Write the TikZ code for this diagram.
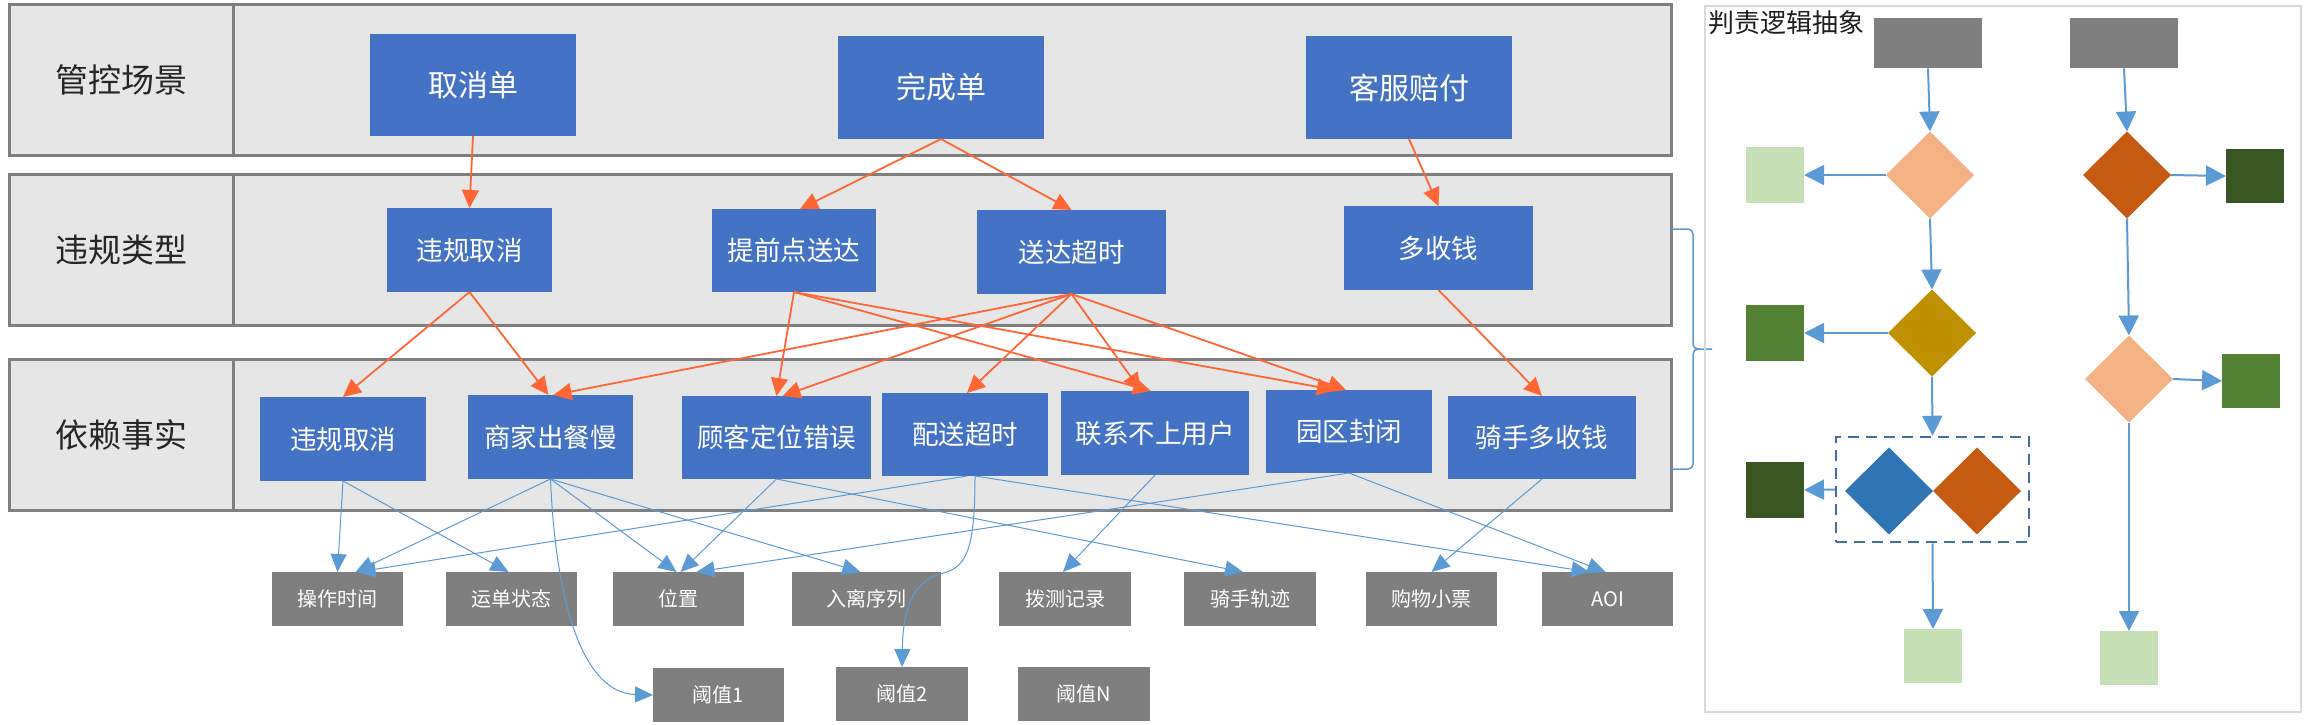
\documentclass[tikz,border=0pt]{standalone}
\usepackage{fontspec}
\setmainfont{Noto Sans CJK SC}
\usetikzlibrary{arrows.meta,shapes.geometric}

\definecolor{bandfill}{RGB}{230,230,230}
\definecolor{bandline}{RGB}{127,127,127}
\definecolor{boxblue}{RGB}{68,114,196}
\definecolor{datagray}{RGB}{127,127,127}
\definecolor{linkblue}{RGB}{91,155,213}
\definecolor{linkorange}{RGB}{255,102,51}
\definecolor{salmon}{RGB}{244,177,131}
\definecolor{gold}{RGB}{191,144,0}
\definecolor{deepblue}{RGB}{46,117,182}
\definecolor{rust}{RGB}{197,90,17}
\definecolor{palegreen}{RGB}{197,224,180}
\definecolor{midgreen}{RGB}{84,130,53}
\definecolor{darkgreen}{RGB}{56,87,35}
\definecolor{dashblue}{RGB}{65,113,156}
\definecolor{framegray}{RGB}{217,217,217}

\tikzset{every picture/.style={line width=0.75pt}}
\tikzset{
	band/.style={draw=bandline, fill=bandfill, line width=3pt},
	bandlabel/.style={text={rgb,255:red,38;green,38;blue,38}, font=\fontsize{33}{36}\selectfont},
	bluebox/.style={fill=boxblue, text=white, inner sep=0pt, outer sep=0pt},
	scene/.style={bluebox, minimum width=206pt, minimum height=103pt, font=\fontsize{30}{34}\selectfont},
	vtype/.style={bluebox, minimum height=84pt, font=\fontsize{26.5}{30}\selectfont},
	datum/.style={fill=datagray, text=white, inner sep=0pt, outer sep=0pt, minimum height=54pt, minimum width=131pt, font=\fontsize{20}{24}\selectfont},
	orangelink/.style={draw=linkorange, line width=1.8pt, -{Triangle[length=18pt,width=17pt]}},
	bluelink/.style={draw=linkblue, line width=1pt, -{Triangle[length=18pt,width=16pt]}},
	panellink/.style={draw=linkblue, line width=2pt, -{Triangle[length=20pt,width=20pt]}},
	block/.style={inner sep=0pt, outer sep=0pt, minimum width=58pt, minimum height=56pt},
	choice/.style={diamond, inner sep=0pt, outer sep=0pt, minimum width=88pt, minimum height=87pt}
}

\begin{document}
\begin{tikzpicture}[x=1pt,y=1pt,yscale=-1,xscale=1]
	\useasboundingbox (0,0) rectangle (2310,724);

	%Shape: Rectangle bands
	\draw [band] (9,4) rectangle (1671,155) ;
	\draw [bandline, line width=3pt] (233,4) -- (233,155) ;
	\draw [band] (9,174) rectangle (1671,325) ;
	\draw [bandline, line width=3pt] (233,174) -- (233,325) ;
	\draw [band] (9,359) rectangle (1671,510) ;
	\draw [bandline, line width=3pt] (233,359) -- (233,510) ;

	% Text Node
	\draw (121,80) node [bandlabel] (lblscene) {管控场景};
	% Text Node
	\draw (121,250) node [bandlabel] (lbltype) {违规类型};
	% Text Node
	\draw (121,435) node [bandlabel] (lblfact) {依赖事实};

	% Scene boxes
	\draw (473,85) node [scene, minimum height=102pt] (cancel) {取消单};
	\draw (941,87.5) node [scene] (finish) {完成单};
	\draw (1409,87.5) node [scene] (refund) {客服赔付};

	% Violation type boxes
	\draw (469.5,250) node [vtype, minimum width=165pt] (tcancel) {违规取消};
	\draw (794,250.5) node [vtype, minimum width=164pt, minimum height=83pt] (early) {提前点送达};
	\draw (1071.5,252) node [vtype, minimum width=189pt] (late) {送达超时};
	\draw (1438.5,248) node [vtype, minimum width=189pt] (overcharge) {多收钱};

	% Fact boxes
	\draw (343,439) node [vtype, minimum width=166pt] (fcancel) {违规取消};
	\draw (550.5,437) node [vtype, minimum width=165pt] (slowmeal) {商家出餐慢};
	\draw (776.5,437.5) node [vtype, minimum width=189pt, minimum height=83pt] (badloc) {顾客定位错误};
	\draw (965,434.5) node [vtype, minimum width=166pt, minimum height=83pt] (dlate) {配送超时};
	\draw (1155,433) node [vtype, minimum width=188pt] (unreach) {联系不上用户};
	\draw (1349,431.5) node [vtype, minimum width=166pt, minimum height=83pt] (closed) {园区封闭};
	\draw (1542,437.5) node [vtype, minimum width=188pt, minimum height=83pt] (riderfee) {骑手多收钱};

	% Data boxes
	\draw (337.5,599) node [datum] (optime) {操作时间};
	\draw (511.5,599) node [datum] (status) {运单状态};
	\draw (678.5,599) node [datum] (pos) {位置};
	\draw (866.5,599) node [datum, minimum width=149pt] (inout) {入离序列};
	\draw (1065,599) node [datum, minimum width=132pt] (dial) {拨测记录};
	\draw (1250,599) node [datum, minimum width=132pt] (track) {骑手轨迹};
	\draw (1431.5,599) node [datum] (receipt) {购物小票};
	\draw (1607.5,599) node [datum] (aoi) {AOI};
	\draw (718.5,695) node [datum] (th1) {阈值1};
	\draw (902,694) node [datum, minimum width=132pt] (th2) {阈值2};
	\draw (1084,694) node [datum, minimum width=132pt] (thn) {阈值N};

	%Straight Lines scene -> type
	\draw [orangelink] (cancel.south) -- (tcancel.north) ;
	\draw [orangelink] (finish.south) -- ([xshift=6pt]early.north) ;
	\draw [orangelink] (finish.south) -- (late.north) ;
	\draw [orangelink] (refund.south) -- (overcharge.north) ;
	%Straight Lines type -> fact
	\draw [orangelink] (tcancel.south) -- (fcancel.north) ;
	\draw [orangelink] (tcancel.south) -- ([xshift=-2pt]slowmeal.north) ;
	\draw [orangelink] (early.south) -- (badloc.north) ;
	\draw [orangelink] (early.south) -- ([xshift=-4pt]unreach.north) ;
	\draw [orangelink] (early.south) -- ([xshift=-14pt]closed.north) ;
	\draw [orangelink] (late.south) -- ([xshift=3pt]slowmeal.north) ;
	\draw [orangelink] (late.south) -- ([xshift=6pt]badloc.north) ;
	\draw [orangelink] (late.south) -- ([xshift=2pt]dlate.north) ;
	\draw [orangelink] (late.south) -- ([xshift=-14pt]unreach.north) ;
	\draw [orangelink] (late.south) -- ([xshift=-3pt]closed.north) ;
	\draw [orangelink] (overcharge.south) -- (riderfee.north) ;

	%Straight Lines fact -> data
	\draw [bluelink] (fcancel.south) -- (optime.north) ;
	\draw [bluelink] (fcancel.south) -- ([xshift=-3pt]status.north) ;
	\draw [bluelink] (slowmeal.south) -- ([xshift=18pt]optime.north) ;
	\draw [bluelink] (slowmeal.south) -- ([xshift=-2pt]pos.north) ;
	\draw [bluelink] (slowmeal.south) -- ([xshift=-6pt]inout.north) ;
	\draw [bluelink] (badloc.south) -- ([xshift=2pt]pos.north) ;
	\draw [bluelink] (badloc.south) -- ([xshift=-7pt]track.north) ;
	\draw [bluelink] ([xshift=2pt]dlate.south) -- ([xshift=20pt]optime.north) ;
	\draw [bluelink] ([xshift=10pt]dlate.south) -- ([xshift=-18pt]aoi.north) ;
	\draw [bluelink] (unreach.south) -- ([xshift=-2pt]dial.north) ;
	\draw [bluelink] (closed.south) -- ([xshift=18pt]pos.north) ;
	\draw [bluelink] (closed.south) -- ([xshift=-2pt]aoi.north) ;
	\draw [bluelink] (riderfee.south) -- (receipt.north) ;
	%Curve Lines
	\draw [bluelink] (slowmeal.south) .. controls (556,610) and (585,693) .. (th1.west) ;
	%Curve Lines
	\draw [bluelink] ([xshift=10pt]dlate.south) .. controls (975,555) and (965,568) .. (940,574) .. controls (912,582) and (903,610) .. (th2.north) ;

	%Shape: Brace
	\draw [linkblue, line width=1.5pt, rounded corners=5pt] (1671,229) -- (1693,229) -- (1693,349) -- (1712,349) ;
	\draw [linkblue, line width=1.5pt, rounded corners=5pt] (1700,349) -- (1693,349) -- (1693,469) -- (1671,469) ;

	%Shape: Rectangle panel frame
	\draw [framegray, line width=2.5pt] (1705,6) rectangle (2301,712) ;
	% Text Node
	\draw (1708,23) node [anchor=west, inner sep=0pt, text={rgb,255:red,30;green,30;blue,30}, font=\fontsize{26}{30}\selectfont] (ptitle) {判责逻辑抽象};

	% Left flow
	\draw (1928,43) node [fill=datagray, inner sep=0pt, minimum width=108pt, minimum height=50pt] (gtopa) {};
	\draw (1930,175) node [choice, fill=salmon] (qa) {};
	\draw (1775,175) node [block, fill=palegreen] (ra) {};
	\draw (1932,333) node [choice, fill=gold] (qb) {};
	\draw (1775,333) node [block, fill=midgreen] (rb) {};
	\draw (1932.5,489.5) node [draw=dashblue, line width=2.5pt, dash pattern=on 11pt off 7pt, inner sep=0pt, minimum width=193pt, minimum height=105pt] (qpair) {};
	\draw (1889,491) node [choice, fill=deepblue] (qc) {};
	\draw (1977,491) node [choice, fill=rust] (qd) {};
	\draw (1775,490) node [block, fill=darkgreen] (rc) {};
	\draw (1933,656) node [block, minimum height=54pt, fill=palegreen] (rd) {};

	% Right flow
	\draw (2124,43) node [fill=datagray, inner sep=0pt, minimum width=108pt, minimum height=50pt] (gtopb) {};
	\draw (2127,175) node [choice, fill=rust] (qe) {};
	\draw (2255,176) node [block, minimum height=54pt, fill=darkgreen] (re) {};
	\draw (2129,379) node [choice, fill=salmon] (qf) {};
	\draw (2251,381) node [block, minimum height=54pt, fill=midgreen] (rf) {};
	\draw (2129,658) node [block, minimum height=54pt, fill=palegreen] (rg) {};

	%Straight Lines panel
	\draw [panellink] (gtopa.south) -- (qa.north) ;
	\draw [panellink] (qa.west) -- (ra.east) ;
	\draw [panellink] (qa.south) -- (qb.north) ;
	\draw [panellink] (qb.west) -- (rb.east) ;
	\draw [panellink] (qb.south) -- (qpair.north) ;
	\draw [panellink] (qpair.west) -- (rc.east) ;
	\draw [panellink] (qpair.south) -- (rd.north) ;
	\draw [panellink] (gtopb.south) -- (qe.north) ;
	\draw [panellink] (qe.east) -- (re.west) ;
	\draw [panellink] (qe.south) -- (qf.north) ;
	\draw [panellink] (qf.east) -- (rf.west) ;
	\draw [panellink] (qf.south) -- (rg.north) ;

\end{tikzpicture}
\end{document}
